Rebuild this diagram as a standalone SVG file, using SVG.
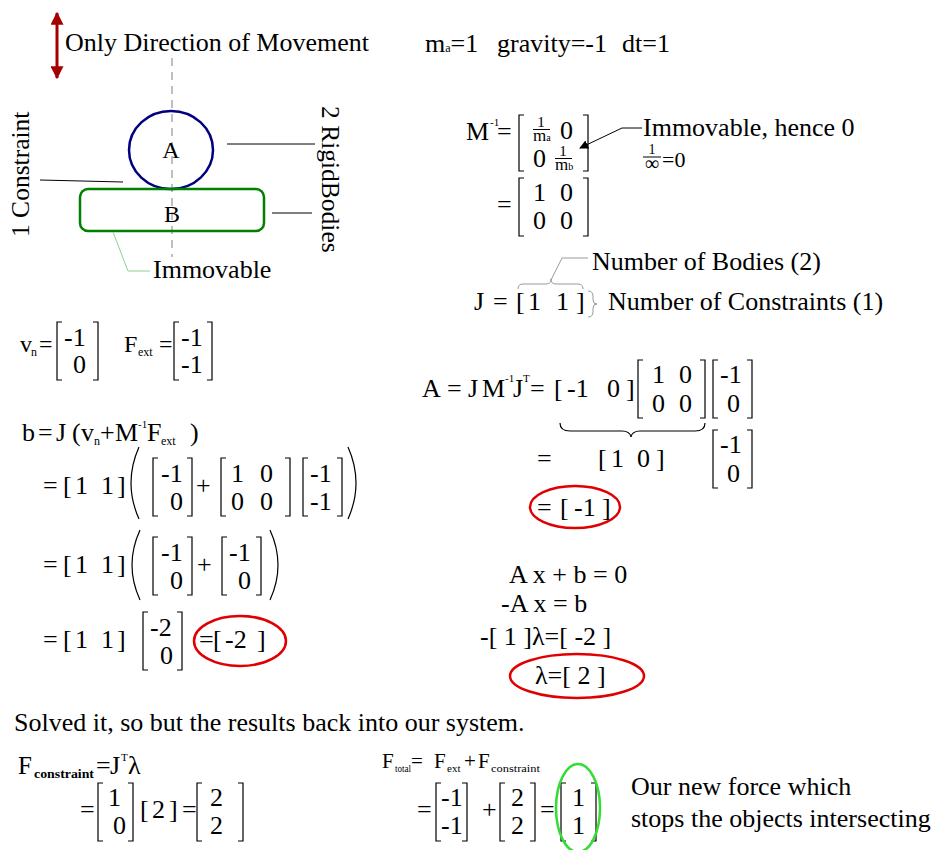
<svg xmlns="http://www.w3.org/2000/svg" width="932" height="850" viewBox="0 0 932 850">
<style>
.t{font-family:"Liberation Serif","Times New Roman",serif;font-size:26px;fill:#000}
.i{font-size:24px}
.sb{font-size:12px}
.sp{font-size:11px}
.fr{font-size:15px}
.m{font-size:17px}
.b{fill:none;stroke:#000;stroke-width:1.2}
.g{fill:none;stroke:#999;stroke-width:1}
.ln{fill:none;stroke:#000;stroke-width:1}
.e{fill:none;stroke:#e00000;stroke-width:2.5}
</style>
<defs>
<marker id="ah" viewBox="0 0 10 10" refX="9" refY="5" markerWidth="9" markerHeight="9" orient="auto" markerUnits="userSpaceOnUse"><path d="M0,0 L10,5 L0,10 Z" fill="#000"/></marker>
<marker id="rh" viewBox="0 0 10 10" refX="9" refY="5" markerWidth="13" markerHeight="13" orient="auto" markerUnits="userSpaceOnUse"><path d="M0,0 L10,5 L0,10 Z" fill="#a50000"/></marker>
</defs>

<g id="scene">
  <line x1="57" y1="45" x2="57" y2="13" stroke="#a50000" stroke-width="3" marker-end="url(#rh)"/>
  <line x1="57" y1="45" x2="57" y2="78" stroke="#a50000" stroke-width="3" marker-end="url(#rh)"/>
  <text class="t" x="65" y="51">Only Direction of Movement</text>
  <line x1="172" y1="58" x2="172" y2="257" stroke="#808080" stroke-width="1" stroke-dasharray="8 6"/>
  <text class="t" style="font-size:25.5px" transform="translate(29,237) rotate(-90)">1 Constraint</text>
  <text class="t" style="font-size:25.5px" transform="translate(322,106) rotate(90)">2 RigidBodies</text>
</g>
<g id="nodeA">
  <ellipse cx="171" cy="150" rx="42" ry="39" fill="none" stroke="#000080" stroke-width="2.5"/>
  <text class="t" x="171" y="158" text-anchor="middle" style="font-size:24px">A</text>
</g>
<g id="nodeB">
  <rect x="80" y="189" width="184" height="42" rx="8" fill="none" stroke="#008000" stroke-width="2.5"/>
  <text class="t" x="172" y="222" text-anchor="middle" style="font-size:24px">B</text>
</g>
<g id="connectors">
  <line class="ln" x1="227" y1="144" x2="315" y2="144"/>
  <line class="ln" x1="272" y1="213" x2="312" y2="213"/>
  <line class="ln" x1="40" y1="180" x2="123" y2="182"/>
  <polyline points="113,232 128,271 150,271" fill="none" stroke="#8fcf8f" stroke-width="1"/>
  <polyline points="642,128 622,128 580,148" class="ln" stroke-width="1.5" marker-end="url(#ah)"/>
  <polyline points="588,258 562,258 551,280" class="g"/>
  <path class="g" d="M518,289 Q518,284 523,284 L546,284 Q551,284 551,279 Q551,284 556,284 L578,284 Q583,284 583,289"/>
  <path class="g" d="M588,291 Q593,291 593,296 L593,300 Q593,304 597,304 Q593,304 593,308 L593,312 Q593,317 588,317"/>
</g>
<g id="immovable">
  <text class="t" x="153" y="278">Immovable</text>
</g>

<g id="constants">
  <text class="t" x="425" y="52">m<tspan class="sb">a</tspan>=1</text>
  <text class="t" x="497" y="52">gravity=-1</text>
  <text class="t" x="622" y="52">dt=1</text>
</g>

<g id="minv">
  <text class="t" x="466" y="140">M</text>
  <text class="t sp" x="490" y="126">-1</text>
  <text class="t" x="497" y="140">=</text>
  <path class="b" d="M524,115 H519 V171 H524"/>
  <path class="b" d="M583,115 H588 V171 H583"/>
  <text class="t fr" x="541" y="127" text-anchor="middle">1</text>
  <line class="ln" x1="533" y1="129.5" x2="550" y2="129.5"/>
  <text class="t m" x="533" y="141">m<tspan style="font-size:10px">a</tspan></text>
  <text class="t" x="560" y="139">0</text>
  <text class="t" x="533" y="167">0</text>
  <text class="t fr" x="563" y="156" text-anchor="middle">1</text>
  <line class="ln" x1="555" y1="158.5" x2="572" y2="158.5"/>
  <text class="t m" x="555" y="170">m<tspan style="font-size:10px">b</tspan></text>
  <text class="t" x="643" y="136">Immovable, hence 0</text>
  <text class="t" x="652" y="154" text-anchor="middle" style="font-size:14px">1</text>
  <line class="ln" x1="643" y1="157" x2="661" y2="157"/>
  <text class="t" x="652" y="170" text-anchor="middle" style="font-size:20px">∞</text>
  <text class="t" x="662" y="167" style="font-size:22px">=0</text>
  <text class="t" x="497" y="213">=</text>
  <path class="b" d="M524,178 H519 V236 H524"/>
  <path class="b" d="M583,178 H588 V236 H583"/>
  <text class="t" x="533" y="201">1</text>
  <text class="t" x="560" y="201">0</text>
  <text class="t" x="533" y="229">0</text>
  <text class="t" x="560" y="229">0</text>
</g>

<g id="jacobian">
  <text class="t" x="592" y="270">Number of Bodies (2)</text>
  <text class="t" x="474" y="310">J</text>
  <text class="t" x="493" y="310">=</text>
  <text class="t" x="516" y="310">[</text>
  <text class="t" x="528" y="310">1</text>
  <text class="t" x="556" y="310">1</text>
  <text class="t" x="576" y="310">]</text>
  <text class="t" x="608" y="310">Number of Constraints (1)</text>
</g>

<g id="vn">
  <text class="t i" x="20" y="352">v</text>
  <text class="t sb" x="31" y="356">n</text>
  <text class="t i" x="39" y="352">=</text>
  <path class="b" d="M62,322 H57 V380 H62"/>
  <path class="b" d="M93,322 H98 V380 H93"/>
  <text class="t" x="64" y="346">-1</text>
  <text class="t" x="73" y="373">0</text>
  <text class="t i" x="124" y="352">F</text>
  <text class="t sb" x="138" y="356">ext</text>
  <text class="t i" x="159" y="352">=</text>
  <path class="b" d="M179,322 H174 V380 H179"/>
  <path class="b" d="M207,322 H212 V380 H207"/>
  <text class="t" x="181" y="346">-1</text>
  <text class="t" x="181" y="373">-1</text>
</g>

<g id="b-eq">
  <text class="t" x="22" y="441">b</text>
  <text class="t" x="38" y="441">=</text>
  <text class="t" x="56" y="441">J</text>
  <text class="t" x="72" y="441">(</text>
  <text class="t" x="81" y="441">v</text>
  <text class="t sb" x="94" y="445">n</text>
  <text class="t" x="100" y="441">+</text>
  <text class="t" x="115" y="441">M</text>
  <text class="t sp" x="138" y="428">-1</text>
  <text class="t" x="147" y="441">F</text>
  <text class="t sb" x="161" y="445">ext</text>
  <text class="t" x="190" y="441">)</text>

  <text class="t" x="43" y="494">=</text>
  <text class="t" x="63" y="494">[</text>
  <text class="t" x="75" y="494">1</text>
  <text class="t" x="101" y="494">1</text>
  <text class="t" x="117" y="494">]</text>
  <path class="b" d="M139,447 Q123,483 139,519"/>
  <path class="b" d="M158,458 H153 V516 H158"/>
  <path class="b" d="M187,458 H192 V516 H187"/>
  <text class="t" x="161" y="482">-1</text>
  <text class="t" x="170" y="510">0</text>
  <text class="t" x="196" y="494">+</text>
  <path class="b" d="M226,458 H221 V516 H226"/>
  <path class="b" d="M285,458 H290 V516 H285"/>
  <text class="t" x="231" y="482">1</text>
  <text class="t" x="260" y="482">0</text>
  <text class="t" x="231" y="510">0</text>
  <text class="t" x="260" y="510">0</text>
  <path class="b" d="M308,458 H303 V516 H308"/>
  <path class="b" d="M337,458 H342 V516 H337"/>
  <text class="t" x="310" y="482">-1</text>
  <text class="t" x="310" y="510">-1</text>
  <path class="b" d="M348,447 Q364,483 348,519"/>

  <text class="t" x="43" y="573">=</text>
  <text class="t" x="63" y="573">[</text>
  <text class="t" x="75" y="573">1</text>
  <text class="t" x="101" y="573">1</text>
  <text class="t" x="117" y="573">]</text>
  <path class="b" d="M140,530 Q124,565 140,600"/>
  <path class="b" d="M158,537 H153 V595 H158"/>
  <path class="b" d="M187,537 H192 V595 H187"/>
  <text class="t" x="161" y="561">-1</text>
  <text class="t" x="170" y="589">0</text>
  <text class="t" x="197" y="573">+</text>
  <path class="b" d="M227,537 H222 V595 H227"/>
  <path class="b" d="M256,537 H261 V595 H256"/>
  <text class="t" x="229" y="561">-1</text>
  <text class="t" x="238" y="589">0</text>
  <path class="b" d="M270,530 Q286,565 270,600"/>

  <text class="t" x="43" y="648">=</text>
  <text class="t" x="63" y="648">[</text>
  <text class="t" x="75" y="648">1</text>
  <text class="t" x="101" y="648">1</text>
  <text class="t" x="117" y="648">]</text>
  <path class="b" d="M148,612 H143 V670 H148"/>
  <path class="b" d="M177,612 H182 V670 H177"/>
  <text class="t" x="150" y="636">-2</text>
  <text class="t" x="160" y="664">0</text>
  <text class="t" x="199" y="648">=</text>
  <text class="t" x="213" y="648">[</text>
  <text class="t" x="225" y="648">-2</text>
  <text class="t" x="257" y="648">]</text>
  <ellipse class="e" cx="240" cy="641" rx="46" ry="25"/>
</g>

<g id="a-eq">
  <text class="t" x="422" y="397">A</text>
  <text class="t" x="447" y="397">=</text>
  <text class="t" x="468" y="397">J</text>
  <text class="t" x="482" y="397">M</text>
  <text class="t sp" x="505" y="382">-1</text>
  <text class="t" x="513" y="397">J</text>
  <text class="t sp" x="523" y="382">T</text>
  <text class="t" x="530" y="397">=</text>
  <text class="t" x="554" y="397">[</text>
  <text class="t" x="567" y="397">-1</text>
  <text class="t" x="607" y="397">0</text>
  <text class="t" x="626" y="397">]</text>
  <path class="b" d="M643,360 H638 V418 H643"/>
  <path class="b" d="M700,360 H705 V418 H700"/>
  <text class="t" x="652" y="383">1</text>
  <text class="t" x="679" y="383">0</text>
  <text class="t" x="652" y="412">0</text>
  <text class="t" x="679" y="412">0</text>
  <path class="b" d="M718,360 H713 V418 H718"/>
  <path class="b" d="M747,360 H752 V418 H747"/>
  <text class="t" x="720" y="383">-1</text>
  <text class="t" x="727" y="412">0</text>
  <path class="b" d="M560,423 Q560,431 570,431 L622,431 Q630,431 631,437 Q632,431 640,431 L695,431 Q705,431 705,423"/>
  <text class="t" x="537" y="467">=</text>
  <text class="t" x="598" y="467">[</text>
  <text class="t" x="611" y="467">1</text>
  <text class="t" x="637" y="467">0</text>
  <text class="t" x="656" y="467">]</text>
  <path class="b" d="M718,430 H713 V488 H718"/>
  <path class="b" d="M747,430 H752 V488 H747"/>
  <text class="t" x="720" y="453">-1</text>
  <text class="t" x="727" y="482">0</text>
  <ellipse class="e" cx="575" cy="507" rx="45" ry="21"/>
  <text class="t" x="537" y="516">=</text>
  <text class="t" x="560" y="516">[</text>
  <text class="t" x="574" y="516">-1</text>
  <text class="t" x="602" y="516">]</text>
</g>

<g id="lambda">
  <text class="t" x="509" y="583">A x + b = 0</text>
  <text class="t" x="501" y="612">-A x = b</text>
  <text class="t" x="480" y="645">-[ 1 ]λ=[ -2 ]</text>
  <ellipse class="e" cx="577" cy="676" rx="67" ry="22"/>
  <text class="t" x="535" y="684">λ=[ 2 ]</text>
</g>

<g id="solved">
  <text class="t" x="14" y="731">Solved it, so but the results back into our system.</text>
  <text class="t" x="18" y="774" style="font-size:25px">F</text>
  <text class="t" x="34" y="778" style="font-size:13px;font-weight:bold" textLength="60" lengthAdjust="spacingAndGlyphs">constraint</text>
  <text class="t" x="96" y="774">=</text>
  <text class="t" x="110" y="774">J</text>
  <text class="t sp" x="121" y="761">T</text>
  <text class="t" x="128" y="774">λ</text>
  <text class="t" x="80" y="818">=</text>
  <path class="b" d="M103,783 H98 V841 H103"/>
  <path class="b" d="M128,783 H133 V841 H128"/>
  <text class="t" x="108" y="806">1</text>
  <text class="t" x="113" y="834">0</text>
  <text class="t" x="140" y="818">[</text>
  <text class="t" x="152" y="818">2</text>
  <text class="t" x="169" y="818">]</text>
  <text class="t" x="182" y="818">=</text>
  <path class="b" d="M202,783 H197 V841 H202"/>
  <path class="b" d="M238,783 H243 V841 H238"/>
  <text class="t" x="210" y="806">2</text>
  <text class="t" x="210" y="834">2</text>
</g>

<g id="ftotal">
  <text class="t" x="382" y="768" style="font-size:21px">F</text>
  <text class="t" x="395" y="772" style="font-size:11px" textLength="16" lengthAdjust="spacingAndGlyphs">total</text>
  <text class="t" x="411" y="768" style="font-size:21px">=</text>
  <text class="t" x="434" y="768" style="font-size:21px">F</text>
  <text class="t" x="447" y="772" style="font-size:11px">ext</text>
  <text class="t" x="464" y="768" style="font-size:21px">+</text>
  <text class="t" x="478" y="768" style="font-size:21px">F</text>
  <text class="t" x="491" y="772" style="font-size:11px" textLength="49" lengthAdjust="spacingAndGlyphs">constraint</text>
  <text class="t" x="417" y="818">=</text>
  <path class="b" d="M441,783 H436 V841 H441"/>
  <path class="b" d="M462,783 H467 V841 H462"/>
  <text class="t" x="441" y="806">-1</text>
  <text class="t" x="441" y="834">-1</text>
  <text class="t" x="482" y="818">+</text>
  <path class="b" d="M505,783 H500 V841 H505"/>
  <path class="b" d="M530,783 H535 V841 H530"/>
  <text class="t" x="511" y="806">2</text>
  <text class="t" x="511" y="834">2</text>
  <text class="t" x="540" y="818">=</text>
  <path class="b" d="M566,783 H561 V841 H566"/>
  <path class="b" d="M591,783 H596 V841 H591"/>
  <text class="t" x="572" y="806">1</text>
  <text class="t" x="572" y="834">1</text>
  <ellipse cx="578" cy="808" rx="22" ry="44" fill="none" stroke="#33dd33" stroke-width="2.5"/>
  <text class="t" x="631" y="795">Our new force which</text>
  <text class="t" x="631" y="827">stops the objects intersecting</text>
</g>
</svg>
